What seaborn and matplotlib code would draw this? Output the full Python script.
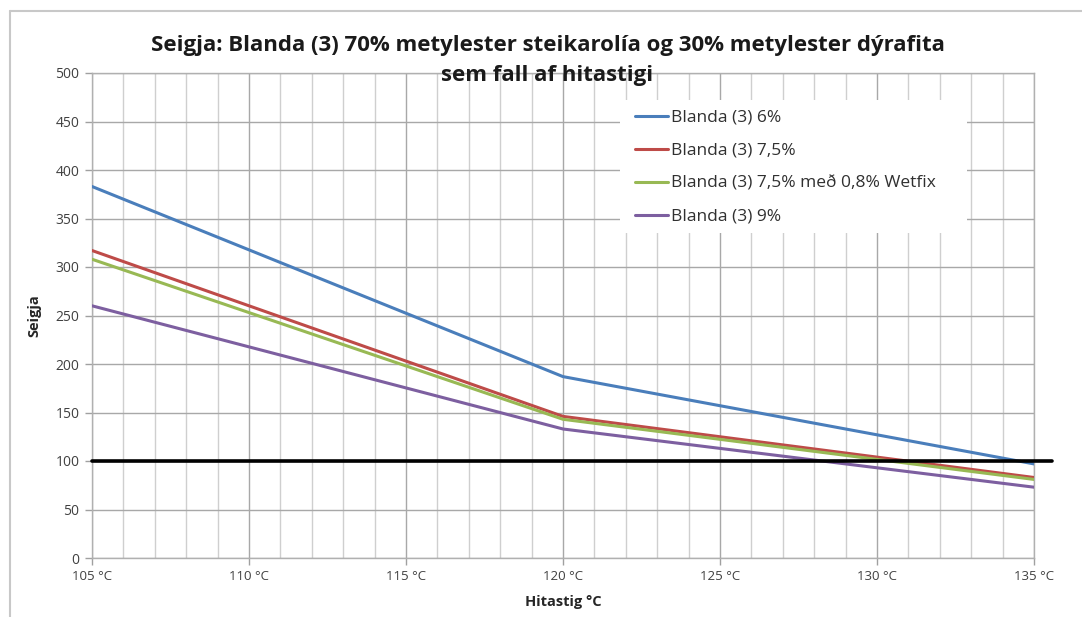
import numpy as np
import pandas as pd
import matplotlib
matplotlib.use("Agg")
import matplotlib.pyplot as plt
import seaborn as sns
from matplotlib.lines import Line2D
from matplotlib.patches import Rectangle
from matplotlib.ticker import MultipleLocator, FixedLocator

temps = [105, 120, 135]
blanda_6 = [383, 187, 97]
blanda_75 = [317, 146, 83]
blanda_75_wetfix = [308, 143, 81]
blanda_9 = [260, 133, 73]
series_names = ["Blanda (3) 6%", "Blanda (3) 7,5%",
                "Blanda (3) 7,5% með 0,8% Wetfix", "Blanda (3) 9%"]
colors = ["#4a7ebb", "#be4b48", "#98b954", "#7d5fa0"]
limit_value = 100
x_ticks = [105, 110, 115, 120, 125, 130, 135]
y_ticks = [0, 50, 100, 150, 200, 250, 300, 350, 400, 450, 500]

df = pd.DataFrame({
    "Hitastig": temps * 4,
    "Seigja": blanda_6 + blanda_75 + blanda_75_wetfix + blanda_9,
    "Röð": sum([[n] * len(temps) for n in series_names], []),
})

sns.set_style("white")
plt.rcParams["font.family"] = ["Open Sans", "DejaVu Sans"]

W, H = 1082, 617
AX_L, AX_R, AX_T, AX_B = 92, 1034, 73, 558
fig = plt.figure(figsize=(W / 100, H / 100), dpi=100)
ax = fig.add_axes([AX_L / W, (H - AX_B) / H, (AX_R - AX_L) / W, (AX_B - AX_T) / H])


def ax_frac(px, py):
    return ((px - AX_L) / (AX_R - AX_L), (AX_B - py) / (AX_B - AX_T))


sns.lineplot(data=df, x="Hitastig", y="Seigja", hue="Röð", hue_order=series_names,
             palette=colors, linewidth=2.2, ax=ax, zorder=3)

ax.axhline(limit_value, xmin=0, xmax=ax_frac(1052, 0)[0], color="black", linewidth=2.6,
           clip_on=False, zorder=4)

ax.set_xlim(105, 135)
ax.set_ylim(0, 500)
ax.xaxis.set_major_locator(FixedLocator(x_ticks))
ax.xaxis.set_minor_locator(MultipleLocator(1))
ax.yaxis.set_major_locator(FixedLocator(y_ticks))
ax.set_xticklabels([f"{t} °C" for t in x_ticks], fontsize=9.5, color="#404040")
ax.set_yticklabels([str(t) for t in y_ticks], fontsize=10, color="#404040")
ax.grid(which="major", axis="both", color="#a8a8a8", linewidth=1.0, zorder=0)
ax.grid(which="minor", axis="x", color="#cfcfcf", linewidth=1.0, zorder=0)
ax.set_axisbelow(True)
for s in ax.spines.values():
    s.set_color("#b0b0b0")
    s.set_linewidth(1.0)
ax.tick_params(axis="both", which="major", length=5, color="#a0a0a0", width=1,
               direction="out", pad=4, left=True, bottom=True)
ax.tick_params(axis="x", which="minor", length=0)

ax.set_xlabel("Hitastig °C", fontsize=10.5, fontweight="bold", labelpad=8)
ax.set_ylabel("Seigja", fontsize=10.5, fontweight="bold", labelpad=10)

# legend background box
x0, y0 = ax_frac(620, 233)
x1, y1 = ax_frac(967, 100)
ax.add_patch(Rectangle((x0, y0), x1 - x0, y1 - y0, transform=ax.transAxes,
                       facecolor="white", edgecolor="none", zorder=2.5))

leg = ax.legend(loc="upper left", bbox_to_anchor=ax_frac(632, 106),
                frameon=False, fontsize=12.5, handlelength=1.9, handletextpad=0.15,
                labelspacing=0.97, borderpad=0.2, borderaxespad=0)
leg.set_zorder(5)
for t in leg.get_texts():
    t.set_color("#303030")

fig.text(0.506, 1 - 45 / H, "Seigja: Blanda (3) 70% metylester steikarolía og 30% metylester dýrafita",
         ha="center", va="center", fontsize=16, fontweight="bold", color="#1a1a1a")
fig.text(0.506, 1 - 76 / H, "sem fall af hitastigi",
         ha="center", va="center", fontsize=16, fontweight="bold", color="#1a1a1a")

fig.add_artist(Line2D([10 / W, 1.0], [1 - 11 / H, 1 - 11 / H],
                      transform=fig.transFigure, color="#c8c8c8", linewidth=1.5))
fig.add_artist(Line2D([10 / W, 10 / W], [0, 1 - 11 / H],
                      transform=fig.transFigure, color="#c8c8c8", linewidth=1.5))

fig.savefig("out.png", dpi=100)
